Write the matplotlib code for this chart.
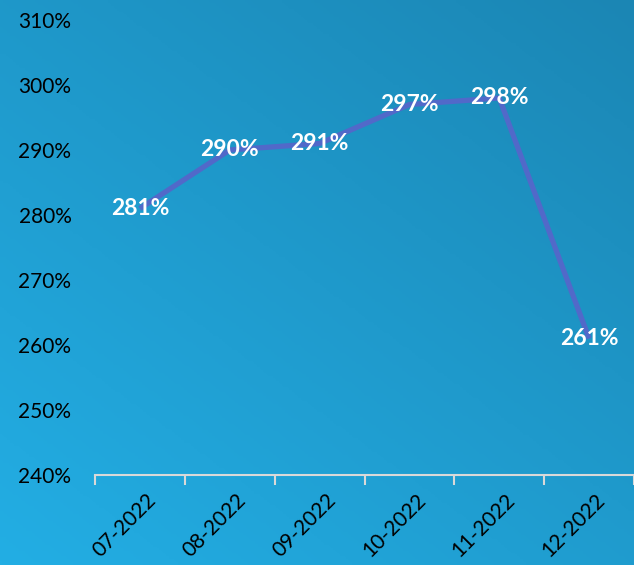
import numpy as np
import matplotlib
matplotlib.use("Agg")
import matplotlib.pyplot as plt
from matplotlib.colors import LinearSegmentedColormap
from matplotlib.transforms import ScaledTranslation

months = ['07-2022', '08-2022', '09-2022', '10-2022', '11-2022', '12-2022']
ratio = [281, 290, 291, 297, 298, 261]
yticks = [240, 250, 260, 270, 280, 290, 300, 310]

plt.rcParams['font.family'] = ['Lato', 'DejaVu Sans']

fig = plt.figure(figsize=(6.34, 5.65), dpi=100)

# background gradient: lighter bottom-left, darker top-right
bg = fig.add_axes([0, 0, 1, 1], zorder=0)
gx, gy = np.meshgrid(np.linspace(0, 1, 200), np.linspace(0, 1, 200))
g = (gx * 0.45 + gy * 0.55)
cmap = LinearSegmentedColormap.from_list('bg', ['#23aee4', '#1b86b4'])
bg.imshow(g, cmap=cmap, origin='lower', extent=[0, 1, 0, 1], aspect='auto')
bg.axis('off')

ax = fig.add_axes([95/634, 1 - 475/565, 539/634, 455/565], zorder=1)
ax.patch.set_alpha(0)

x = np.arange(len(months))
ax.plot(x, ratio, color='#5169c9', lw=3.8, solid_capstyle='butt', zorder=2)
for xi, v in zip(x, ratio):
    ax.text(xi, v, f'{v}%', ha='center', va='center', color='white',
            fontsize=16.5, fontweight='bold', zorder=3)

ax.set_xlim(-0.5, len(months) - 0.5)
ax.set_ylim(240, 310)
ax.set_yticks(yticks)
ax.set_yticklabels([f'{t}%' for t in yticks], fontsize=15, color='black')
ax.tick_params(axis='y', length=0, pad=17)

ax.set_xticks(x)
ax.set_xticklabels(months, rotation=45, ha='right', rotation_mode='anchor',
                   fontsize=15, color='black')
ax.set_xticks(np.arange(-0.5, len(months)), minor=True)
ax.tick_params(axis='x', which='major', length=0, pad=11)
ax.tick_params(axis='x', which='minor', length=7, width=1.5, color='#d9d9d9')
for lab in ax.get_xticklabels():
    lab.set_transform(lab.get_transform() + ScaledTranslation(6/100, 0, fig.dpi_scale_trans))

for s in ['top', 'right', 'left']:
    ax.spines[s].set_visible(False)
ax.spines['bottom'].set_color('#d9d9d9')
ax.spines['bottom'].set_linewidth(1.5)

fig.savefig('out.png', dpi=100)
